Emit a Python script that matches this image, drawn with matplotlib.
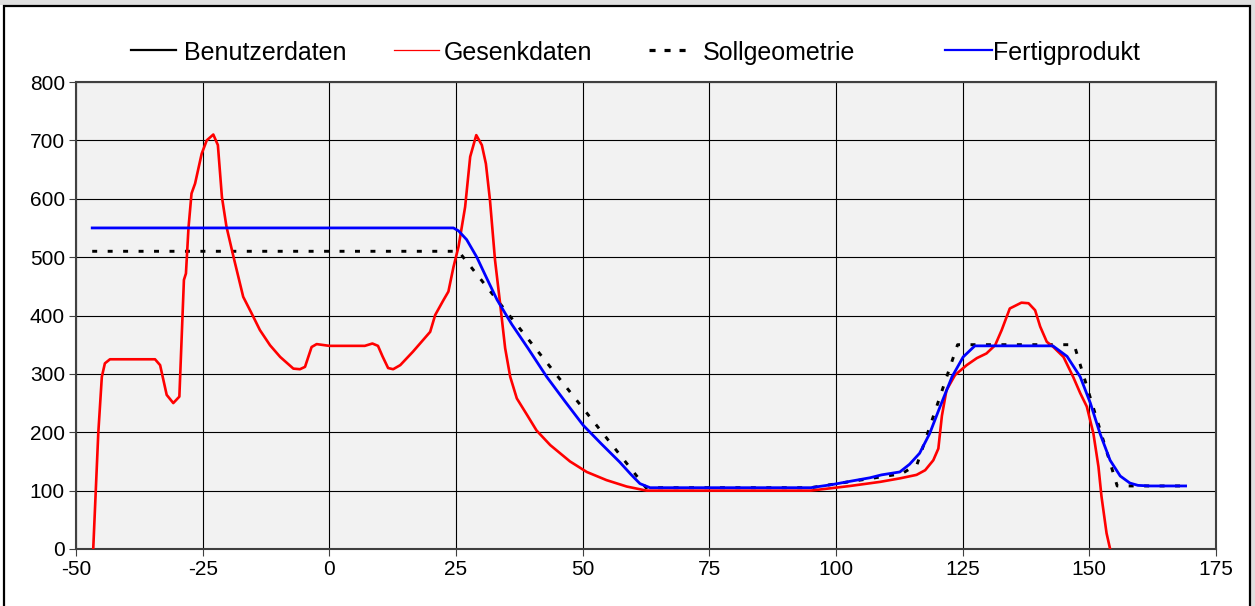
import matplotlib
matplotlib.use("Agg")
import matplotlib.pyplot as plt
from matplotlib.lines import Line2D
from matplotlib.patches import Rectangle

plt.rcParams['font.family'] = ['Liberation Sans', 'DejaVu Sans']

# ---------------- data ----------------
legend_labels = ["Benutzerdaten", "Gesenkdaten", "Sollgeometrie", "Fertigprodukt"]

x_ticks = [-50, -25, 0, 25, 50, 75, 100, 125, 150, 175]
y_ticks = [0, 100, 200, 300, 400, 500, 600, 700, 800]

# Gesenkdaten (red)
gesenk_x = [-46.6, -45.6, -44.9, -44.3, -43.3, -34.4, -33.4, -32.1, -30.8, -29.6,
            -28.7, -28.3, -27.8, -27.2, -26.5, -25.2, -24.2, -22.9, -22.0, -21.2,
            -20.3, -18.9, -17.0, -15.3, -13.7, -11.7, -9.7, -7.1, -5.8, -4.8,
            -3.5, -2.5, 0.0, 7.0, 8.5, 9.6, 10.5, 11.6, 12.6, 14.0,
            16.5, 19.9, 20.9, 22.5, 23.5, 24.5, 25.5, 26.8, 27.8, 29.0,
            30.1, 30.9, 31.7, 32.7, 33.7, 34.7, 35.7, 37.0, 39.0, 40.9,
            43.6, 47.5, 50.8, 54.7, 58.7, 62.6, 95.0, 102.8, 108.7, 112.6,
            115.9, 117.6, 119.2, 120.2, 120.9, 121.8, 123.5, 125.8, 127.8, 129.7,
            131.4, 132.7, 134.3, 136.6, 138.0, 139.3, 140.3, 141.6, 142.9, 144.9,
            146.8, 148.2, 149.5, 150.8, 151.8, 152.4, 153.4, 154.1]
gesenk_y = [0, 199, 295, 318, 325, 325, 315, 264, 250, 261,
            461, 472, 550, 609, 626, 677, 700, 710, 692, 603,
            552, 500, 432, 403, 375, 349, 329, 309, 308, 312,
            346, 351, 348, 348, 352, 348, 330, 310, 308, 315,
            338, 372, 401, 426, 441, 483, 518, 586, 672, 709,
            692, 660, 598, 495, 421, 344, 295, 258, 230, 203,
            178, 150, 132, 118, 107, 100, 100, 108, 115, 121,
            127, 135, 152, 172, 228, 272, 298, 315, 327, 335,
            349, 375, 412, 422, 421, 409, 381, 355, 346, 329,
            295, 267, 244, 198, 141, 90, 27, 0]

# Sollgeometrie (black dotted)
soll_x = [-46.8, 25.5, 62.5, 95.0, 113.0, 116.0, 124.0, 147.0, 155.5, 169.0]
soll_y = [510, 510, 105, 105, 129, 145, 350, 350, 108, 108]

# Fertigprodukt (blue)
fertig_x = [-46.8, 24.5, 25.5, 27.1, 29.1, 31.0, 33.1, 36.0, 39.2, 42.9,
            46.5, 50.1, 53.7, 57.3, 59.5, 61.3, 63.3, 70.0, 80.0, 95.0,
            99.0, 102.8, 106.7, 109.0, 112.6, 114.5, 116.5, 118.5, 120.5, 122.9,
            125.1, 127.4, 135.0, 142.8, 145.6, 148.2, 150.2, 152.1, 154.1, 156.1,
            158.0, 159.6, 162.0, 169.0]
fertig_y = [550, 550, 545, 530, 500, 465, 427, 385, 344, 295,
            253, 212, 180, 149, 128, 112, 105, 105, 105, 105,
            110, 116, 122, 127, 132, 145, 164, 198, 243, 295,
            329, 348, 348, 348, 330, 295, 250, 198, 152, 125,
            113, 109, 108, 108]

# ---------------- figure ----------------
W, H = 1255, 606
fig = plt.figure(figsize=(W / 100, H / 100), dpi=100, facecolor='white')

def fx(px):
    return px / W

def fy(py):
    return 1 - py / H

# outer gray strip and frame (behind the axes)
fig.add_artist(Rectangle((0, fy(5)), 1, 1 - fy(5), transform=fig.transFigure,
                         facecolor='#e0e0e0', edgecolor='none', zorder=-3))
fig.add_artist(Rectangle((fx(1251), 0), 1 - fx(1251), 1, transform=fig.transFigure,
                         facecolor='#e0e0e0', edgecolor='none', zorder=-3))
fig.add_artist(Rectangle((fx(4), fy(612)), fx(1250) - fx(4), fy(6) - fy(612),
                         transform=fig.transFigure, facecolor='white',
                         edgecolor='black', linewidth=1.6, zorder=-2))

left, right, top, bottom = 76, 1216, 82, 549
ax = fig.add_axes([fx(left), fy(bottom), fx(right) - fx(left), fy(top) - fy(bottom)])
ax.set_zorder(1)
ax.set_facecolor('#f2f2f2')

ax.plot(soll_x, soll_y, color='black', lw=2.1, linestyle=(0, (1.7, 3.6)), zorder=3)
ax.plot(gesenk_x, gesenk_y, color='#ff0000', lw=1.9, zorder=4)
ax.plot(fertig_x, fertig_y, color='#0000ff', lw=2.0, zorder=5)

ax.set_xlim(-50, 175)
ax.set_ylim(0, 800)
ax.set_xticks(x_ticks)
ax.set_yticks(y_ticks)
ax.set_xticklabels([str(v) for v in x_ticks])
ax.set_yticklabels([str(v) for v in y_ticks])
ax.grid(True, color='black', linewidth=0.8, zorder=1)
ax.set_axisbelow(True)
ax.tick_params(axis='both', labelsize=15, length=5, width=0.8, color='#404040',
               direction='out', pad=3)
for s in ax.spines.values():
    s.set_color('#404040')
    s.set_linewidth(1.5)

# ---------------- legend (manual, figure pixels) ----------------
ly = 49.5
lbase = 60
entries = [
    (131, 176, 184, dict(color='black', lw=1.6, linestyle='-')),
    (394, 439, 444, dict(color='#ff0000', lw=0.9, linestyle='-')),
    (649, 686, 703, dict(color='black', lw=2.3, linestyle=(0, (1.9, 2.8)))),
    (945, 992, 993, dict(color='#0000ff', lw=1.6, linestyle='-')),
]
for (x1, x2, xt, style), lab in zip(entries, legend_labels):
    fig.add_artist(Line2D([fx(x1), fx(x2)], [fy(ly), fy(ly)],
                          transform=fig.transFigure, **style))
    fig.text(fx(xt), fy(lbase), lab, fontsize=18, ha='left', va='baseline',
             color='black')

fig.savefig('out.png', dpi=100, facecolor=fig.get_facecolor())
